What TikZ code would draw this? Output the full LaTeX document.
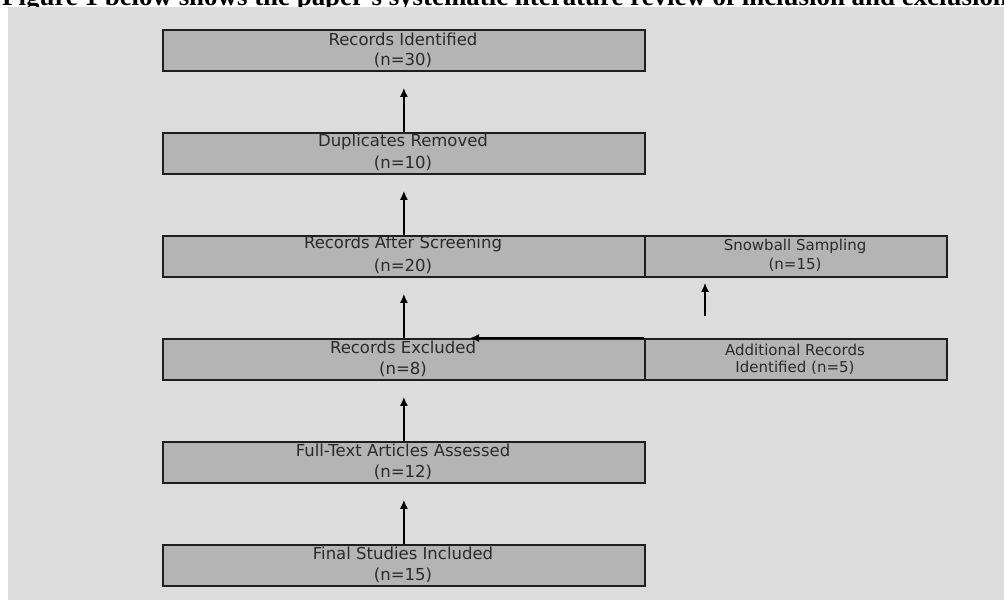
\documentclass[tikz,border=0pt]{standalone}
\usepackage{fontspec}
\setmainfont{DejaVu Sans}
\newfontfamily\capfont{Liberation Serif}
\usetikzlibrary{arrows.meta}
\definecolor{panel}{HTML}{DCDCDC}
\definecolor{boxfill}{HTML}{B4B4B4}
\definecolor{boxline}{HTML}{1E1E1E}
\definecolor{txt}{HTML}{2A2A2A}
\tikzset{
  bigbox/.style={draw=boxline, line width=1.8pt, fill=boxfill, minimum width=482pt, minimum height=41pt, inner sep=0pt, anchor=north west},
  sidebox/.style={draw=boxline, line width=1.8pt, fill=boxfill, minimum width=302pt, minimum height=41pt, inner sep=0pt, anchor=north west},
  bigtxt/.style={text=txt, font=\fontsize{16.5}{20}\selectfont, inner sep=0pt},
  smalltxt/.style={text=txt, font=\fontsize{15}{18}\selectfont, inner sep=0pt},
  arr/.style={draw=black, line width=1.6pt, -{Latex[length=9pt,width=8pt]}}
}
\begin{document}
\begin{tikzpicture}[x=1pt,y=-1pt]
\useasboundingbox (0,0) rectangle (1004,600);
\clip (0,0) rectangle (1004,600);
\fill[white] (0,0) rectangle (1004,600);
\node[anchor=base west, inner sep=0pt, font=\capfont\bfseries\fontsize{26.9}{31}\selectfont] (cap) at (2,5.5) {Figure 1 below shows the paper's systematic literature review of inclusion and exclusion};
\fill[panel] (8,7) rectangle (1004,600);

% boxes
\node[bigbox] (b1) at (162,29) {};
\node[bigbox] (b2) at (162,132) {};
\node[bigbox] (b3) at (162,235) {};
\node[bigbox] (b4) at (162,338) {};
\node[bigbox] (b5) at (162,441) {};
\node[bigbox] (b6) at (162,544) {};
\node[sidebox] (snow) at (644,235) {};
\node[sidebox] (add) at (644,338) {};

% texts
\node[bigtxt] (t1a) at (403,39) {Records Identified};
\node[bigtxt] (t1b) at (403,60) {(n=30)};
\node[bigtxt] (t2a) at (403,142) {Duplicates Removed};
\node[bigtxt] (t2b) at (403,163) {(n=10)};
\node[bigtxt] (t3a) at (403,244) {Records After Screening};
\node[bigtxt] (t3b) at (403,266) {(n=20)};
\node[bigtxt] (t4a) at (403,347) {Records Excluded};
\node[bigtxt] (t4b) at (403,369) {(n=8)};
\node[bigtxt] (t5a) at (403,450) {Full-Text Articles Assessed};
\node[bigtxt] (t5b) at (403,472) {(n=12)};
\node[bigtxt] (t6a) at (403,553) {Final Studies Included};
\node[bigtxt] (t6b) at (403,575) {(n=15)};
\node[smalltxt] (s1a) at (795,246) {Snowball Sampling};
\node[smalltxt] (s1b) at (795,265) {(n=15)};
\node[smalltxt] (s2a) at (795,350) {Additional Records};
\node[smalltxt] (s2b) at (795,368) {Identified (n=5)};

% arrows
\draw[arr, shorten >=16pt] (b2) -- (b1);
\draw[arr, shorten >=16pt] (b3) -- (b2);
\draw[arr, shorten >=16pt] (b4) -- (b3);
\draw[arr, shorten >=16pt] (b5) -- (b4);
\draw[arr, shorten >=16pt] (b6) -- (b5);
\coordinate (c1) at (705,316);
\draw[arr, shorten >=5pt] (c1) -- (c1 |- snow.south);
\coordinate (c2) at (470,338);
\draw[arr] (add.north west) -- (c2);
\end{tikzpicture}
\end{document}
